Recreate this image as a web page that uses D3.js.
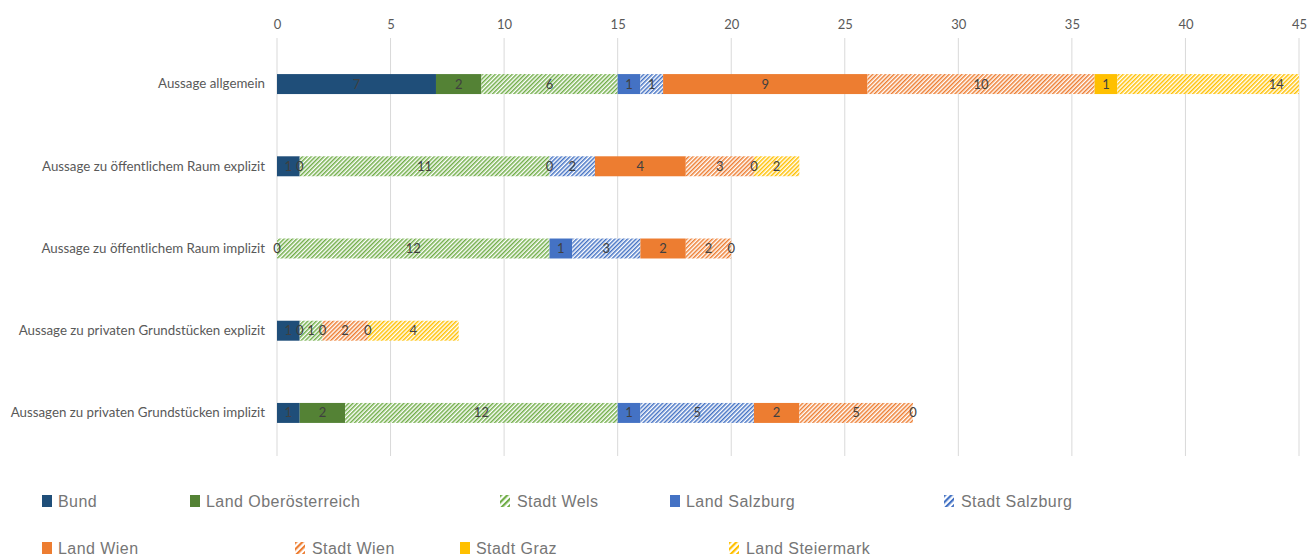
<!DOCTYPE html>
<html>
<head>
<meta charset="utf-8">
<script src="https://cdn.jsdelivr.net/npm/d3@7"></script>
<style>
  body { margin: 0; background: #fff; }
  svg { display: block; }
</style>
</head>
<body>
<svg id="chart" width="1309" height="557"></svg>
<script>
// categories (top to bottom)
const categories = [
  "Aussage allgemein",
  "Aussage zu öffentlichem Raum explizit",
  "Aussage zu öffentlichem Raum implizit",
  "Aussage zu privaten Grundstücken explizit",
  "Aussagen zu privaten Grundstücken implizit"
];

const seriesNames = ["Bund", "Land Oberösterreich", "Stadt Wels", "Land Salzburg", "Stadt Salzburg",
  "Land Wien", "Stadt Wien", "Stadt Graz", "Land Steiermark"];

// values per series, one per category (null = no segment / no label)
const bund        = [7, 1, 0, 1, 1];
const landOOE     = [2, 0, null, 0, 2];
const stadtWels   = [6, 11, 12, 1, 12];
const landSbg     = [1, 0, 1, 0, 1];
const stadtSbg    = [1, 2, 3, null, 5];
const landWien    = [9, 4, 2, null, 2];
const stadtWien   = [10, 3, 2, 2, 5];
const stadtGraz   = [1, 0, 0, 0, 0];
const landStmk    = [14, 2, null, 4, null];

const seriesValues = [bund, landOOE, stadtWels, landSbg, stadtSbg, landWien, stadtWien, stadtGraz, landStmk];

const axisTicks = [0, 5, 10, 15, 20, 25, 30, 35, 40, 45];

// styles
const colors = ["#1f4e79", "#548235", "#70ad47", "#4472c4", "#4472c4", "#ed7d31", "#ed7d31", "#ffc000", "#ffc000"];
const hatched = [false, false, true, false, true, false, true, false, true];
const calibriLike = "Lato, 'Open Sans', sans-serif";

const svg = d3.select("#chart");
const defs = svg.append("defs");

seriesNames.forEach((s, i) => {
  if (!hatched[i]) return;
  const p = defs.append("pattern")
    .attr("id", "hatch" + i)
    .attr("patternUnits", "userSpaceOnUse")
    .attr("width", 3).attr("height", 3)
    .attr("patternTransform", "rotate(45)");
  p.append("rect").attr("width", 3).attr("height", 3).attr("fill", "#fff");
  p.append("rect").attr("width", 1.5).attr("height", 3).attr("fill", colors[i]);
  // coarser version for legend icons
  const q = defs.append("pattern")
    .attr("id", "lhatch" + i)
    .attr("patternUnits", "userSpaceOnUse")
    .attr("width", 4.5).attr("height", 4.5)
    .attr("patternTransform", "rotate(45)");
  q.append("rect").attr("width", 4.5).attr("height", 4.5).attr("fill", "#fff");
  q.append("rect").attr("width", 2.2).attr("height", 4.5).attr("fill", colors[i]);
});
const fillOf = i => hatched[i] ? `url(#hatch${i})` : colors[i];

const x = d3.scaleLinear().domain([0, 45]).range([277, 1299]);
const y = d3.scaleBand().domain(categories).range([43, 454]).paddingInner(0.757).paddingOuter(0.378);

defs.append("clipPath").attr("id", "plotClip")
  .append("rect").attr("x", x(0)).attr("y", 0).attr("width", x(45) - x(0)).attr("height", 557);

// gridlines
svg.append("g").selectAll("line")
  .data(axisTicks)
  .join("line")
  .attr("x1", d => x(d)).attr("x2", d => x(d))
  .attr("y1", 38).attr("y2", 456)
  .attr("stroke", "#d9d9d9").attr("stroke-width", 1);

// top axis
const xAxis = svg.append("g")
  .attr("transform", "translate(0,29)")
  .call(d3.axisTop(x).tickValues(axisTicks).tickSize(0).tickPadding(0));
xAxis.select(".domain").remove();
xAxis.selectAll("text")
  .attr("fill", "#595959")
  .style("font-family", calibriLike)
  .style("font-size", "13px");

// category axis
const yAxis = svg.append("g")
  .attr("transform", "translate(265,0)")
  .call(d3.axisLeft(y).tickSize(0).tickPadding(0));
yAxis.select(".domain").remove();
yAxis.selectAll("text")
  .attr("fill", "#595959")
  .style("font-family", calibriLike)
  .style("font-size", "13.3px");

// stacked segments
const segs = [];
categories.forEach((c, ci) => {
  let acc = 0;
  seriesValues.forEach((vals, si) => {
    const v = vals[ci];
    if (v === null) return;
    segs.push({ cat: c, si, v, x0: acc, x1: acc + v });
    acc += v;
  });
});

const bars = svg.append("g").attr("clip-path", "url(#plotClip)");
bars.selectAll("rect")
  .data(segs.filter(d => d.v > 0))
  .join("rect")
  .attr("x", d => x(d.x0))
  .attr("y", d => y(d.cat))
  .attr("width", d => x(d.x1) - x(d.x0))
  .attr("height", y.bandwidth())
  .attr("fill", d => fillOf(d.si));

// value labels
svg.append("g").selectAll("text")
  .data(segs.filter(d => x((d.x0 + d.x1) / 2) <= 1300))
  .join("text")
  .attr("x", d => x((d.x0 + d.x1) / 2))
  .attr("y", d => y(d.cat) + y.bandwidth() / 2)
  .attr("dy", "0.35em")
  .attr("text-anchor", "middle")
  .attr("fill", "#404040")
  .style("font-family", calibriLike)
  .style("font-size", "13px")
  .text(d => d.v);

// legend
const legendPos = [
  [42, 501], [190, 501], [500, 501], [670, 501], [944, 501],
  [42, 548], [295, 548], [460, 548], [729, 548]
];
const legend = svg.append("g").selectAll("g")
  .data(seriesNames)
  .join("g")
  .attr("transform", (d, i) => `translate(${legendPos[i][0]},${legendPos[i][1]})`);
legend.append("rect")
  .attr("x", 0).attr("y", -6)
  .attr("width", 10).attr("height", 12)
  .attr("fill", (d, i) => hatched[i] ? `url(#lhatch${i})` : colors[i]);
legend.append("text")
  .attr("x", (d, i) => hatched[i] ? 17 : 16)
  .attr("dy", "0.35em")
  .attr("fill", "#767676")
  .style("font-family", "Liberation Sans, Arial, sans-serif")
  .style("font-size", "16px")
  .style("letter-spacing", "0.45px")
  .text(d => d);
</script>
</body>
</html>
